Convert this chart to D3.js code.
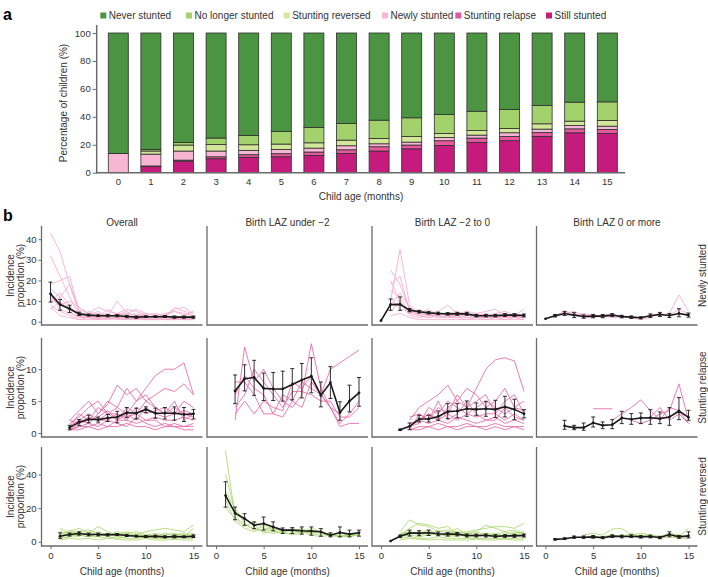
<!DOCTYPE html>
<html><head><meta charset="utf-8">
<script src="https://cdn.jsdelivr.net/npm/d3@7"></script>
<style>body{margin:0;background:#fff} svg{display:block;font-family:"Liberation Sans",Arial,Helvetica,sans-serif}</style>
</head><body><svg id="chart" width="708" height="577"></svg>
<script>
// ---------- Panel a data ----------
const ages = [0,1,2,3,4,5,6,7,8,9,10,11,12,13,14,15];
const categories = ["Never stunted","No longer stunted","Stunting reversed","Newly stunted","Stunting relapse","Still stunted"];
const stillStunted     = [0,4.5,8.3,10.0,11.0,11.4,12.4,13.8,15.5,17.1,19.5,21.7,22.9,26.0,28.6,28.1];
const stuntingRelapse  = [0,0.3,0.7,1.4,1.9,2.2,2.4,2.6,3.1,2.7,3.4,3.1,3.1,2.8,2.8,2.9];
const newlyStunted     = [13.8,8.5,6.5,4.1,3.1,3.1,2.8,2.9,2.1,2.1,2.3,2.1,2.6,2.4,2.4,2.3];
const stuntingReversed = [0,2.2,4.3,4.7,4.0,3.8,3.8,4.0,3.8,4.1,2.9,3.3,3.1,3.8,3.1,4.1];
const noLongerStunted  = [0,1.2,1.9,4.6,6.7,9.0,11.0,11.9,13.1,13.3,13.6,13.8,13.5,13.1,13.6,13.3];
const neverStunted     = [86.2,83.3,78.3,75.2,73.3,70.5,67.6,64.8,62.4,60.7,58.3,56.0,54.8,51.9,49.5,49.3];
const pctTicks = [0,20,40,60,80,100];

// ---------- Panel b data (months 0..15, null = no value) ----------
const colTitles = ["Overall","Birth LAZ under \u22122","Birth LAZ \u22122 to 0","Birth LAZ 0 or more"];
const rowLabels = ["Newly stunted","Stunting relapse","Stunting reversed"];
const monthTicks = [0,5,10,15];
const newlyTicks = [0,10,20,30,40];
const relapseTicks = [0,5,10];
const reversedTicks = [0,20,40];
const _ = null;

// Newly stunted – Overall
const newlyOverallStudies = [
 [43,34,18,4,3,2,3,2,2,1.5,2,1,2,1.5,1,1],
 [32,22,12,3,2,3,2,4,3,2,2,3,2,2,3,2],
 [18,20,22,5,3,2,6,3,5,2,3,2,3,5,4,3],
 [16,12,18,6,4,7,5,4,6,5,3,4,3,6,7,4],
 [12,9,6,3,2,1.5,2,2,1,2,1,2,1,1,2,1],
 [10,14,8,2,3,4,3,3,4,3,4,3,2,3,2,3],
 [8,5,3,1,1,1,1,1.5,1,1,1,1,1,1,1,1],
 [6,10,5,2,5,3,3,10,4,6,4,3,4,5,3,5],
 [14,6,4,2,2,2,1.5,2,2,1,2,2,1,2,1,2],
 [7,3,2,1,2,1,2,1,1,2,1,1,2,1,2,1],
 [11,8,10,7,4,3,4,2,3,4,2,3,2,7,5,4],
 [9,12,6,4,3,5,2,3,2,3,3,2,3,2,2,_]
];
const newlyOverallMean = [13.5,8.3,6.3,3.8,3.2,2.9,2.9,2.9,2.5,2.2,2.4,2.4,2.5,2.2,2.2,2.2];
const newlyOverallLo   = [9.5,5.6,4.5,3.0,2.7,2.5,2.4,2.4,1.9,1.7,2.0,2.0,2.0,1.7,1.7,1.7];
const newlyOverallHi   = [19.2,10.8,8.0,4.6,3.7,3.3,3.4,3.4,3.1,2.7,2.8,2.8,3.0,2.7,2.7,2.7];
// Newly stunted – LAZ -2 to 0
const newlyMidStudies = [
 [_,10,35,8,4,3,3,2,4,3,3,2,3,2,3,2],
 [_,25,18,6,5,3,4,3,3,2,3,2,2,3,2,3],
 [_,18,22,5,3,4,2,3,2,4,2,3,4,2,3,2],
 [_,15,12,4,6,4,5,8,4,5,4,3,4,5,3,6],
 [_,8,14,7,3,2,3,2,3,2,2,2,2,2,2,2],
 [_,5,10,3,2,3,2,2,2,1,2,1,2,1,2,1],
 [_,12,6,5,4,6,3,4,5,3,4,5,6,3,4,3],
 [_,3,4,2,1,1,1,1,1,1,1,1,1,1,1,1],
 [_,20,9,4,3,2,4,3,2,3,3,4,3,4,2,4]
];
const newlyMidMean = [0.5,8.3,8.4,5.6,4.8,4.3,4.0,3.8,3.8,3.8,2.9,2.9,2.9,3.2,3.2,3.0];
const newlyMidLo   = [_,5.5,5.5,4.8,4.2,3.7,3.4,3.2,3.1,3.1,2.3,2.3,2.3,2.5,2.5,2.3];
const newlyMidHi   = [_,11,12,6.4,5.4,4.9,4.6,4.4,4.5,4.5,3.5,3.5,3.5,3.9,3.9,3.7];
// Newly stunted – LAZ 0 or more
const newlyHighStudies = [
 [_,2,4,5,3,3,2,3,3,2,2,3,3,4,13,5],
 [_,3,5,4,2,2,3,2,2,2,1,2,4,3,6,4],
 [_,_,3,3,4,3,3,4,2,2,2,3,4,3,4,3]
];
const newlyHighMean = [1.4,2.9,4.0,3.2,2.5,2.7,2.7,3.2,2.5,2.2,1.9,2.9,3.5,3.0,4.0,3.2];
const newlyHighLo   = [_,2.3,3.0,2.0,1.7,1.9,1.9,2.5,1.9,1.6,1.4,2.0,2.5,2.0,2.4,2.2];
const newlyHighHi   = [_,3.5,5.0,4.4,3.3,3.5,3.5,3.9,3.1,2.8,2.4,3.8,4.5,4.0,6.3,4.2];

// Stunting relapse – Overall
const relapseOverallStudies = [
 [_,_,1,2,3,2,3,4,3,5,7,9,10,10,11,6],
 [_,_,0.5,1.5,2,4,3,2,4,3,5,6,7,6.5,7.7,6],
 [_,_,2,3.5,5,3,4.5,7.5,6,7,5,4,3,4,3,2.5],
 [_,_,1,2,1.5,3,5,4,7,5,6,4,3,5,2,3],
 [_,_,0.5,1,1,1.5,1,2,2,1.5,2,2,1,1.5,1,1],
 [_,_,1.5,2.5,4,5,3,3,2,4,3,3.5,4,3,5,4],
 [_,_,0.5,0.5,1,0.5,1,1,1.5,1,1,0.5,1,1,0.5,0.5],
 [_,_,2,1.5,2.5,2,2,3,2.5,3,2,2.5,2,2,2.5,2],
 [_,_,1,3,2,2.5,3.5,2,3,2,4,3,2.5,3,3.5,3],
 [_,_,0.5,1,1.5,1,2,1.5,1,2.5,1.5,1,1.5,1,1,1.5]
];
const relapseOverallMean = [_,_,0.84,1.7,2.15,2.1,2.35,2.5,3.2,3.1,3.7,3.1,3.1,3.1,2.9,3.0];
const relapseOverallLo   = [_,_,0.5,1.2,1.6,1.7,1.8,1.6,2.4,2.2,3.2,2.3,2.2,2.0,1.8,2.2];
const relapseOverallHi   = [_,_,1.2,2.1,2.8,2.5,2.9,3.4,4.0,3.9,4.1,3.9,4.0,4.1,4.0,3.7];
// Stunting relapse – LAZ under -2
const relapseLowStudies = [
 [_,_,2,13.5,8,10,7,5,4,6,14,7,4,1,1.5,1.5],
 [_,_,8,8,6,3,3,6,5,4,8,6,10,11,12,13],
 [_,_,4,6,10,8,6,4,6.5,6.5,6,5,5,2.5,2.5,4],
 [_,_,3,5,3,5,4,3.5,8,7,9,6,4,1.5,3,5],
 [_,_,6,9,7,6,3,2.5,5,8,7,6,4,3,_,_]
];
const relapseLowMean = [_,_,6.6,8.5,8.7,7.0,6.9,6.9,7.6,8.3,8.9,5.9,7.9,3.2,5.0,6.3];
const relapseLowLo   = [_,_,4.6,6.6,5.9,5.1,5.1,5.0,5.2,5.5,6.3,4.1,5.4,2.0,3.3,4.2];
const relapseLowHi   = [_,_,9.1,10.7,11.4,9.4,9.5,9.7,10.1,10.9,11.8,8.0,10.4,4.9,7.5,8.7];
// Stunting relapse – LAZ -2 to 0
const relapseMidStudies = [
 [_,_,_,1,2,3,2,4,5,4,7,10,11.5,11.8,11.3,6.5],
 [_,_,_,2,4,5,6,7.5,5,7,6,4,5,7,4,5],
 [_,_,_,0.5,3,2,4,3,6,4,5,6,3,5,6,3],
 [_,_,_,1.5,2,3,2,3,2,3,2.5,3,3,2,3,2],
 [_,_,_,0.5,1,1,1.5,1,1,1.5,1,1,1.5,1,1,0.5],
 [_,_,_,1,1.5,4,3,5,4,3,4,5,4,3,4,3.5],
 [_,_,_,2.5,3,2,5,2,3,5,3,2,2,4,2.5,2],
 [_,_,_,0.5,0.5,1,0.5,1,0.5,1,1,0.5,1,0.5,1,1],
 [_,_,_,1,2,1.5,2,1.5,2.5,2,1.5,2,2.5,1.5,2,1.5]
];
const relapseMidMean = [_,_,0.5,1.05,2.2,2.2,2.6,3.35,3.45,3.8,3.7,3.8,3.7,4.1,3.7,3.0];
const relapseMidLo   = [_,_,0.4,0.52,1.73,1.73,1.99,2.25,2.36,2.62,2.77,2.62,2.41,2.51,2.09,2.36];
const relapseMidHi   = [_,_,0.6,1.57,2.77,2.77,3.46,4.61,4.61,5.03,4.71,4.97,5.13,5.76,5.29,3.66];
// Stunting relapse – LAZ 0 or more
const relapseHighStudies = [
 [_,_,_,_,_,3.8,3.8,3.8,_,_,_,_,_,_,_,_],
 [_,_,_,_,_,_,_,2,3,4,5.2,3.5,2,4,3.5,1.5],
 [_,_,_,_,_,_,_,_,_,2,1.5,2,3,3.5,7.7,2],
 [_,_,_,_,_,_,_,_,_,_,_,2.5,4,2,3,1.5]
];
const relapseHighMean = [_,_,1.1,0.84,0.84,1.6,1.2,1.3,2.35,2.15,2.35,2.4,2.25,2.5,3.45,2.45];
const relapseHighLo   = [_,_,0.58,0.52,0.42,0.94,0.68,0.68,1.47,1.36,1.47,1.36,1.47,1.2,2.09,1.99];
const relapseHighHi   = [_,_,1.99,1.2,1.57,2.51,1.73,2.09,3.4,3.04,3.14,3.66,3.3,3.98,5.55,3.56];

// Stunting reversed – Overall
const reversedOverallStudies = [
 [_,8,5,6,7,5,4,6,5,4,6,7,8,7,6,10],
 [_,3,6,8,5,9,6,4,5,6,4,5,4,5,4,5],
 [_,2,3,4,3,3,2,3,2,2,3,2,2,3,2,2],
 [_,5,4,3,6,4,5,3,4,3,3,4,3,2,3,4],
 [_,1,2,1.5,2,1,2,1.5,1,1,2,1,1,1.5,1,1],
 [_,4,7,5,4,6,4,5,3,4,2,3,5,4,5,3],
 [_,2,3,6,4,3,5,4,6,3,4,3,2,4,3,8],
 [_,6,5,4,3,5,3,2,3,5,3,2,3,2,4,2]
];
const reversedOverallMean = [_,3.3,4.3,4.9,4.3,4.3,4.1,4.3,3.7,3.3,3.1,3.3,2.9,3.1,2.9,3.3];
const reversedOverallLo   = [_,2.0,3.4,3.9,3.5,3.5,3.4,3.7,3.1,2.8,2.6,2.7,2.3,2.3,2.4,2.5];
const reversedOverallHi   = [_,5.3,5.2,5.9,5.1,5.1,4.8,4.9,4.3,3.8,3.6,3.9,3.5,3.9,3.4,4.1];
// Stunting reversed – LAZ under -2
const reversedLowStudies = [
 [_,54,15,10,8,6,5,6,4,5,7,5,4,3,4,5],
 [_,40,18,14,10,5,8,6,7,5,8,6,4,3,4,4],
 [_,25,12,8,6,10,7,5,8,6,5,4,5,3,3,5],
 [_,30,20,11,7,7,9,7,6,8,5,6,3,4,3,4],
 [_,20,14,9,12,8,6,5,5,6,4,3,4,5,4,5]
];
const reversedLowMean = [_,27.5,17,13.7,9.8,10.8,8.8,6.9,6.9,6.5,6.3,5.9,3.9,5.5,4.5,5.3];
const reversedLowLo   = [_,20.6,13.1,9.8,7.8,6.9,6.5,4.9,4.9,4.5,3.9,3.3,2.9,2.9,2.9,3.3];
const reversedLowHi   = [_,35.7,20.6,16.7,11.8,14.7,11.8,8.2,8.4,8.8,8.8,7.8,5.3,8.8,6.9,6.9];
// Stunting reversed – LAZ -2 to 0
const reversedMidStudies = [
 [_,_,6,13,10,9,6,7,5,6,7,8,9,9,8,11],
 [_,_,4,8,11,10,8,9,5,4,6,10,8,6,7,5],
 [_,_,5,6,5,7,4,5,6,5,4,5,4,6,4,5],
 [_,_,3,4,3,4,5,3,4,3,3,4,3,3,4,3],
 [_,_,2,3,2,2,3,2,2,2,2,2,2,2,2,2],
 [_,_,4,6,4,5,4,4,3,5,6,4,5,3,5,6],
 [_,_,1,2,1.5,1,1.5,1,1,1,1.5,1,1,1.5,1,1],
 [_,_,3,5,6,4,7,5,8,4,3,5,3,4,6,4]
];
const reversedMidMean = [_,0.4,3.3,5.1,5.1,5.3,4.7,4.5,4.5,3.7,3.7,3.7,3.3,3.5,3.5,3.7];
const reversedMidLo   = [_,_,2.6,3.4,3.6,3.7,3.6,3.4,3.5,2.8,2.8,2.8,2.4,2.6,2.6,2.8];
const reversedMidHi   = [_,_,4.0,6.9,6.6,6.9,5.8,5.6,5.5,4.6,4.6,4.6,4.2,4.4,4.4,4.6];
// Stunting reversed – LAZ 0 or more
const reversedHighStudies = [
 [_,_,_,_,4,5,4,7.5,8,4,5,4,3,5,4,3],
 [_,_,_,_,_,3,3,4,3,5,3,4,3,4,3,8],
 [_,_,_,_,_,_,2,3,4,3,4,3,2,3,2,2]
];
const reversedHighMean = [_,1.4,1.8,2.7,2.7,2.9,2.4,3.3,3.1,3.3,2.9,3.1,2.5,4.3,2.9,3.5];
const reversedHighLo   = [_,1.0,1.3,2.0,2.0,2.1,1.8,2.5,2.3,2.5,2.2,2.3,1.8,2.9,2.1,2.3];
const reversedHighHi   = [_,1.8,2.3,3.4,3.4,3.7,3.0,4.1,3.9,4.1,3.6,3.9,3.2,5.9,3.7,5.9];

// ---------- Styles ----------
const catColors = {
  "Never stunted":"#4b9442","No longer stunted":"#a3d16b","Stunting reversed":"#d3e79b",
  "Newly stunted":"#f7b7d4","Stunting relapse":"#e5589c","Still stunted":"#c51b7d"
};
const rowLineColors = ["#f5abcb","#e866a5","#aed671"];
const axisColor = "#6b6b6b";
const textColor = "#333";
const FS = 10;
const TFS = 9.5;

const svg = d3.select("#chart");

// ================= PANEL a =================
const seriesByCat = {
  "Still stunted":stillStunted,"Stunting relapse":stuntingRelapse,"Newly stunted":newlyStunted,
  "Stunting reversed":stuntingReversed,"No longer stunted":noLongerStunted,"Never stunted":neverStunted
};
const stackOrder = ["Still stunted","Stunting relapse","Newly stunted","Stunting reversed","No longer stunted","Never stunted"];
const tableA = ages.map((a,i)=>{const o={age:a}; stackOrder.forEach(k=>o[k]=seriesByCat[k][i]); return o;});
const stacked = d3.stack().keys(stackOrder)(tableA);

const xA = d3.scaleBand().domain(ages).range([98.5,627.1]).paddingInner(0.386).paddingOuter(0.3);
const yA = d3.scaleLinear().domain([0,100]).range([172.7,33]);

svg.append("text").attr("x",3).attr("y",20).attr("font-size",16).attr("font-weight","bold").text("a");

const gA = svg.append("g");
stacked.forEach(layer=>{
  gA.append("g").selectAll("rect").data(layer.filter(d=>d[1]-d[0]>0)).join("rect")
    .attr("x",d=>xA(d.data.age)).attr("width",xA.bandwidth())
    .attr("y",d=>yA(d[1])).attr("height",d=>yA(d[0])-yA(d[1]))
    .attr("fill",catColors[layer.key]).attr("stroke","#2f2f2f").attr("stroke-width",0.8);
});
// axes
const yAxisA = gA.append("g").attr("transform","translate(96.7,0)")
  .call(d3.axisLeft(yA).tickValues(pctTicks).tickSize(4).tickPadding(2));
yAxisA.select(".domain").remove();
gA.append("line").attr("x1",96.7).attr("x2",96.7).attr("y1",25).attr("y2",173.4).attr("stroke",axisColor).attr("stroke-width",1.5);
const xAxisA = gA.append("g").attr("transform","translate(0,172.7)")
  .call(d3.axisBottom(xA).tickSize(0).tickPadding(6));
xAxisA.select(".domain").remove();
gA.append("line").attr("x1",96).attr("x2",625).attr("y1",172.7).attr("y2",172.7).attr("stroke",axisColor).attr("stroke-width",1.5);
[yAxisA,xAxisA].forEach(g=>{g.selectAll("text").attr("font-size",TFS).attr("fill",textColor).attr("font-family",null);
  g.selectAll("line").attr("stroke",axisColor);});
gA.append("text").attr("transform","translate(67,103) rotate(-90)").attr("text-anchor","middle")
  .attr("font-size",FS).attr("fill",textColor).text("Percentage of children (%)");
gA.append("text").attr("x",361).attr("y",200).attr("text-anchor","middle")
  .attr("font-size",FS).attr("fill",textColor).text("Child age (months)");
// legend
const legendX = [103.3,189,286.7,385,458.3,549];
const lg = svg.append("g").selectAll("g").data(categories).join("g")
  .attr("transform",(d,i)=>`translate(${legendX[i]},15.5)`);
lg.append("rect").attr("x",-3).attr("y",-3).attr("width",6).attr("height",6).attr("fill",d=>catColors[d]);
lg.append("text").attr("x",5.5).attr("y",3.6).attr("font-size",FS).attr("fill",textColor).text(d=>d);

// ================= PANEL b =================
svg.append("text").attr("x",3).attr("y",221).attr("font-size",16).attr("font-weight","bold").text("b");

const colLeft = [41.5,207,372,536.5];
const panelW = 161;
const rowDefs = [
  {top:226, bottom:325, domain:[-1.6,46.4], ticks:newlyTicks},
  {top:338, bottom:437, domain:[-0.63,14.9], ticks:relapseTicks},
  {top:447, bottom:546, domain:[-2.55,56.4], ticks:reversedTicks}
];
const panelData = [
  [ {studies:newlyOverallStudies, mean:newlyOverallMean, lo:newlyOverallLo, hi:newlyOverallHi},
    null,
    {studies:newlyMidStudies, mean:newlyMidMean, lo:newlyMidLo, hi:newlyMidHi},
    {studies:newlyHighStudies, mean:newlyHighMean, lo:newlyHighLo, hi:newlyHighHi} ],
  [ {studies:relapseOverallStudies, mean:relapseOverallMean, lo:relapseOverallLo, hi:relapseOverallHi},
    {studies:relapseLowStudies, mean:relapseLowMean, lo:relapseLowLo, hi:relapseLowHi},
    {studies:relapseMidStudies, mean:relapseMidMean, lo:relapseMidLo, hi:relapseMidHi},
    {studies:relapseHighStudies, mean:relapseHighMean, lo:relapseHighLo, hi:relapseHighHi} ],
  [ {studies:reversedOverallStudies, mean:reversedOverallMean, lo:reversedOverallLo, hi:reversedOverallHi},
    {studies:reversedLowStudies, mean:reversedLowMean, lo:reversedLowLo, hi:reversedLowHi},
    {studies:reversedMidStudies, mean:reversedMidMean, lo:reversedMidLo, hi:reversedMidHi},
    {studies:reversedHighStudies, mean:reversedHighMean, lo:reversedHighLo, hi:reversedHighHi} ]
];

// column titles
colTitles.forEach((t,c)=>{
  svg.append("text").attr("x",colLeft[c]+panelW/2).attr("y",225.5).attr("text-anchor","middle")
    .attr("font-size",FS).attr("fill",textColor).text(t);
});

rowDefs.forEach((rd,r)=>{
  const y = d3.scaleLinear().domain(rd.domain).range([rd.bottom, rd.top]);
  colLeft.forEach((left,c)=>{
    const g = svg.append("g");
    const x = d3.scaleLinear().domain([0,15]).range([left+9,left+152]);
    const pd = panelData[r][c];
    if (pd) {
      const line = d3.line().defined(v=>v!=null).x((v,i)=>x(ages[i])).y(v=>y(v));
      g.append("g").selectAll("path").data(pd.studies).join("path")
        .attr("d",line).attr("fill","none").attr("stroke",rowLineColors[r])
        .attr("stroke-width",1).attr("stroke-opacity",0.85);
      const pts = ages.map((a,i)=>({a, m:pd.mean[i], lo:pd.lo[i], hi:pd.hi[i]}));
      g.append("path").attr("d",d3.line().defined(d=>d.m!=null).x(d=>x(d.a)).y(d=>y(d.m))(pts))
        .attr("fill","none").attr("stroke","#1a1a1a").attr("stroke-width",1.6);
      const eb = g.append("g").selectAll("g").data(pts.filter(d=>d.lo!=null && d.hi!=null)).join("g")
        .attr("stroke","#1a1a1a").attr("stroke-width",0.9);
      eb.append("line").attr("x1",d=>x(d.a)).attr("x2",d=>x(d.a)).attr("y1",d=>y(d.lo)).attr("y2",d=>y(d.hi));
      eb.append("line").attr("x1",d=>x(d.a)-2).attr("x2",d=>x(d.a)+2).attr("y1",d=>y(d.lo)).attr("y2",d=>y(d.lo));
      eb.append("line").attr("x1",d=>x(d.a)-2).attr("x2",d=>x(d.a)+2).attr("y1",d=>y(d.hi)).attr("y2",d=>y(d.hi));
      g.append("g").selectAll("circle").data(pts.filter(d=>d.m!=null)).join("circle")
        .attr("cx",d=>x(d.a)).attr("cy",d=>y(d.m)).attr("r",1.4).attr("fill","#1a1a1a");
    }
    // axis lines
    g.append("line").attr("x1",left).attr("x2",left).attr("y1",rd.top).attr("y2",rd.bottom+0.7)
      .attr("stroke",axisColor).attr("stroke-width",1.3);
    g.append("line").attr("x1",left).attr("x2",left+panelW).attr("y1",rd.bottom).attr("y2",rd.bottom)
      .attr("stroke",axisColor).attr("stroke-width",1.3);
    if (c===0) {
      const ya = g.append("g").attr("transform",`translate(${left},0)`)
        .call(d3.axisLeft(y).tickValues(rd.ticks).tickSize(3).tickPadding(2));
      ya.select(".domain").remove();
      ya.selectAll("text").attr("font-size",TFS).attr("fill",textColor).attr("font-family",null);
      ya.selectAll("line").attr("stroke",axisColor);
      const mid = (rd.top+rd.bottom)/2;
      const lab = g.append("text").attr("transform",`translate(14.5,${mid}) rotate(-90)`)
        .attr("text-anchor","middle").attr("font-size",FS).attr("fill",textColor);
      lab.append("tspan").attr("x",0).attr("dy",-1).text("Incidence");
      lab.append("tspan").attr("x",0).attr("dy",10.5).text("proportion (%)");
    }
    if (r===2) {
      const xa = g.append("g").attr("transform",`translate(0,${rd.bottom})`)
        .call(d3.axisBottom(x).tickValues(monthTicks).tickSize(3).tickPadding(3));
      xa.select(".domain").remove();
      xa.selectAll("text").attr("font-size",TFS).attr("fill",textColor).attr("font-family",null);
      xa.selectAll("line").attr("stroke",axisColor);
      g.append("text").attr("x",left+panelW/2).attr("y",575).attr("text-anchor","middle")
        .attr("font-size",FS).attr("fill",textColor).text("Child age (months)");
    }
  });
  svg.append("text").attr("transform",`translate(706,${(rd.top+rd.bottom)/2}) rotate(-90)`)
    .attr("text-anchor","middle").attr("font-size",FS).attr("fill",textColor).text(rowLabels[r]);
});
</script></body></html>
